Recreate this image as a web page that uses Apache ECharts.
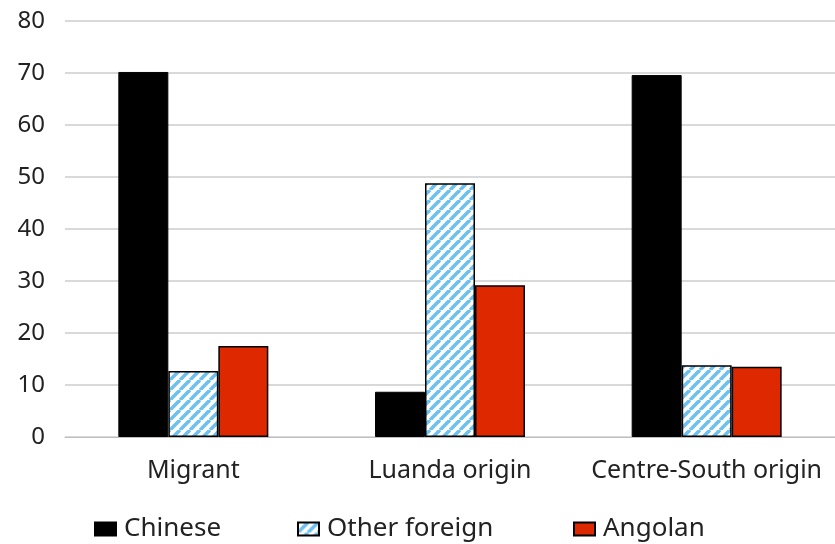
<!DOCTYPE html>
<html><head><meta charset="utf-8">
<script src="https://cdn.jsdelivr.net/npm/echarts@6/dist/echarts.min.js"></script>
<style>html,body{margin:0;padding:0;background:#fff}#c{width:835px;height:544px}</style>
</head><body><div id="c"></div>
<script>
const categories = ['Migrant', 'Luanda origin', 'Centre-South origin'];
const seriesNames = ['Chinese', 'Other foreign', 'Angolan'];
const chinese = [70.2, 8.7, 69.6];
const otherForeign = [12.7, 48.8, 13.8];
const angolan = [17.5, 29.2, 13.5];
const yTicks = [0, 10, 20, 30, 40, 50, 60, 70, 80];

function hatch() {
  const s = 10;
  const cv = document.createElement('canvas');
  cv.width = s; cv.height = s;
  const g = cv.getContext('2d');
  g.fillStyle = '#fff'; g.fillRect(0, 0, s, s);
  g.strokeStyle = '#6ec1ee'; g.lineWidth = 3.6;
  for (let k = -1; k <= 1; k++) {
    g.beginPath();
    g.moveTo(k * s, s);
    g.lineTo(k * s + s, 0);
    g.stroke();
  }
  return cv;
}
const hatchImg = hatch();
const font = '"Noto Sans", sans-serif';
const txt = { fontSize: 24, color: '#222', fontFamily: font };
const xTxt = { fontSize: 25, color: '#222', fontFamily: font };
const big = { fontSize: 26, color: '#222', fontFamily: font };
const legendLefts = [89, 292, 568];
const chart = echarts.init(document.getElementById('c'));
chart.setOption({
  animation: false,
  grid: { left: 65, right: 0, top: 21, bottom: 107 },
  legend: seriesNames.map((n, i) => ({
    top: 511, left: legendLefts[i], itemWidth: 21, itemHeight: 13, itemGap: 8,
    icon: 'rect', textStyle: Object.assign({ padding: [0, 0, 0, 3] }, big), data: [n]
  })),
  xAxis: {
    type: 'category', data: categories,
    axisLine: { show: true, lineStyle: { color: '#bfbfbf', width: 1 } },
    axisTick: { show: false },
    axisLabel: Object.assign({ margin: 21, interval: 0 }, xTxt)
  },
  yAxis: {
    type: 'value', min: 0, max: 80, interval: 10,
    axisLine: { show: false }, axisTick: { show: false },
    splitLine: { lineStyle: { color: '#d9d9d9', width: 2 } },
    axisLabel: Object.assign({ margin: 20,
      formatter: v => yTicks.includes(v) ? String(v) : '' }, txt)
  },
  series: [
    { name: seriesNames[0], type: 'bar', data: chinese, barWidth: 50, barGap: '0%',
      itemStyle: { color: '#000', borderColor: '#000', borderWidth: 1 } },
    { name: seriesNames[1], type: 'bar', data: otherForeign, barWidth: 50, barGap: '0%',
      itemStyle: { color: { image: hatchImg, repeat: 'repeat' }, borderColor: '#000', borderWidth: 1.5 } },
    { name: seriesNames[2], type: 'bar', data: angolan, barWidth: 50, barGap: '0%',
      itemStyle: { color: '#de2800', borderColor: '#000', borderWidth: 1.5 } }
  ]
});
</script></body></html>
